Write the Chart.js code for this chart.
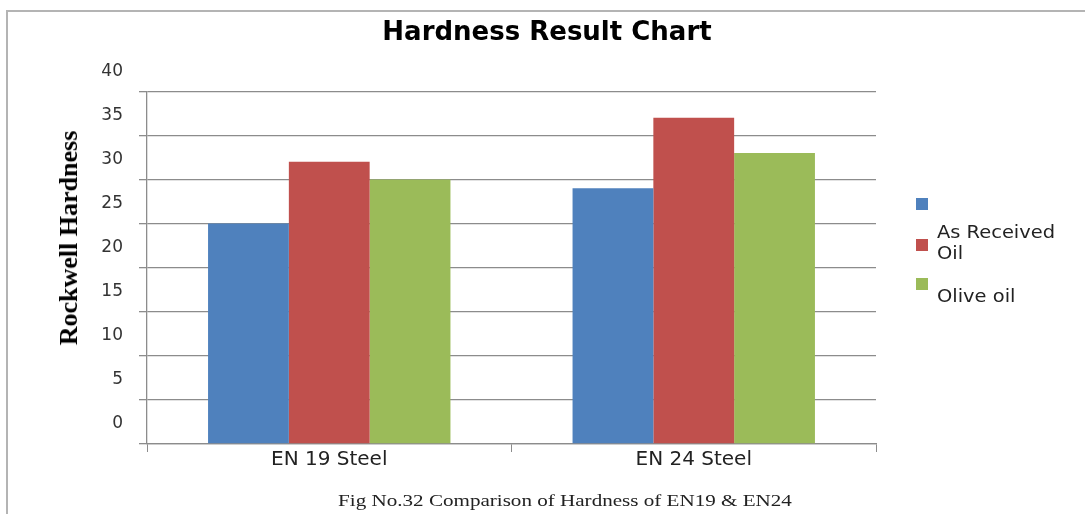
<!DOCTYPE html>
<html>
<head>
<meta charset="utf-8">
<script src="https://cdn.jsdelivr.net/npm/chart.js@4/dist/chart.umd.min.js"></script>
<style>
  html, body { margin: 0; padding: 0; background: #fff; }
  #wrap { position: relative; width: 1085px; height: 514px; overflow: hidden; }
  #frame { position: absolute; left: 6px; top: 10px; width: 1200px; height: 600px;
           border-top: 2px solid #b4b4b4; border-left: 2px solid #b4b4b4; }
  canvas { position: absolute; left: 0; top: 0; }
  #legend { position: absolute; left: 0; top: 0; font-family: "DejaVu Sans", sans-serif;
            font-size: 18px; color: #222; }
  .lg-box { position: absolute; width: 12px; height: 12px; }
  .lg-text { position: absolute; line-height: 21px; white-space: nowrap;
             transform-origin: 0 0; transform: scaleX(1.08); }
  #ytitle { position: absolute; left: 69px; top: 238px; white-space: nowrap;
            transform: translate(-50%, -50%) rotate(-90deg);
            font-family: "Liberation Serif", "Times New Roman", serif; font-size: 26px;
            font-weight: bold; color: #000; line-height: 1; }
  #caption { position: absolute; top: 491px; left: 565px; white-space: nowrap;
             transform: translateX(-50%) scaleX(1.24);
             font-family: "Liberation Serif", "Times New Roman", serif; font-size: 17px;
             color: #222; }
</style>
</head>
<body>
<div id="wrap">
  <div id="frame"></div>
  <canvas id="c" width="1085" height="514"></canvas>
  <div id="ytitle"></div>
  <div id="legend"></div>
  <div id="caption"></div>
</div>
<script>
const chartTitle = "Hardness Result Chart";
const yAxisTitle = "Rockwell Hardness";
const captionText = "Fig No.32 Comparison of Hardness of EN19 & EN24";
const categories = ["EN 19 Steel", "EN 24 Steel"];
const seriesNames = ["", ["As Received", "Oil"], "Olive oil"];
const seriesColors = ["#4F81BD", "#C0504D", "#9BBB59"];
const series1 = [25, 29];
const series2 = [32, 37];
const series3 = [30, 33];
const yMin = 0, yMax = 40, yStep = 5;

document.getElementById('caption').textContent = captionText;
document.getElementById('ytitle').textContent = yAxisTitle;

const seriesValues = [series1, series2, series3];
const datasets = seriesValues.map((vals, i) => ({
  label: Array.isArray(seriesNames[i]) ? seriesNames[i].join(' ') : seriesNames[i],
  data: vals,
  backgroundColor: seriesColors[i],
  borderWidth: 0,
  categoryPercentage: 0.665,
  barPercentage: 1.0
}));

const gridColor = '#8c8c8c';

const chart = new Chart(document.getElementById('c'), {
  type: 'bar',
  data: { labels: categories, datasets },
  options: {
    responsive: false,
    animation: false,
    devicePixelRatio: 1,
    layout: { padding: { left: 10, right: 1, top: 0, bottom: 40 } },
    plugins: {
      legend: { display: false },
      tooltip: { enabled: false },
      title: {
        display: true,
        text: chartTitle,
        color: '#000',
        font: { family: '"DejaVu Sans", sans-serif', size: 26, weight: 'bold' },
        padding: { top: 18, bottom: 42 }
      }
    },
    scales: {
      x: {
        grid: { display: true, drawOnChartArea: false, drawTicks: true, tickLength: 8,
                color: gridColor, offset: true },
        border: { color: gridColor, width: 1.3 },
        ticks: { color: '#222', padding: -4,
                 font: { family: '"DejaVu Sans", sans-serif', size: 20 } },
        afterFit(s) { s.height = 30; }
      },
      y: {
        min: yMin, max: yMax,
        grid: { color: gridColor, lineWidth: 1.3, tickLength: 8, drawTicks: true },
        border: { color: gridColor, width: 1.3 },
        ticks: { stepSize: yStep, color: '#333', padding: 16, labelOffset: -20,
                 font: { family: '"DejaVu Sans", sans-serif', size: 17 } },
        afterFit(s) { s.width = 137; }
      },
      yR: {
        type: 'linear', position: 'right', display: true,
        grid: { display: false, drawTicks: false },
        ticks: { display: false },
        border: { display: false },
        afterFit(s) { s.width = 208; }
      }
    }
  }
});

// HTML legend built from the chart's datasets
const legendLayout = [
  { boxTop: 198, textTop: null },
  { boxTop: 239, textTop: 221 },
  { boxTop: 278, textTop: 285 }
];
const legendEl = document.getElementById('legend');
chart.data.datasets.forEach((ds, i) => {
  const box = document.createElement('div');
  box.className = 'lg-box';
  box.style.left = '916px';
  box.style.top = legendLayout[i].boxTop + 'px';
  box.style.background = ds.backgroundColor;
  legendEl.appendChild(box);
  const name = seriesNames[i];
  if (name && name.length) {
    const t = document.createElement('div');
    t.className = 'lg-text';
    t.style.left = '937px';
    t.style.top = legendLayout[i].textTop + 'px';
    const lines = Array.isArray(name) ? name : [name];
    lines.forEach(l => { const d = document.createElement('div'); d.textContent = l; t.appendChild(d); });
    legendEl.appendChild(t);
  }
});
</script>
</body>
</html>
